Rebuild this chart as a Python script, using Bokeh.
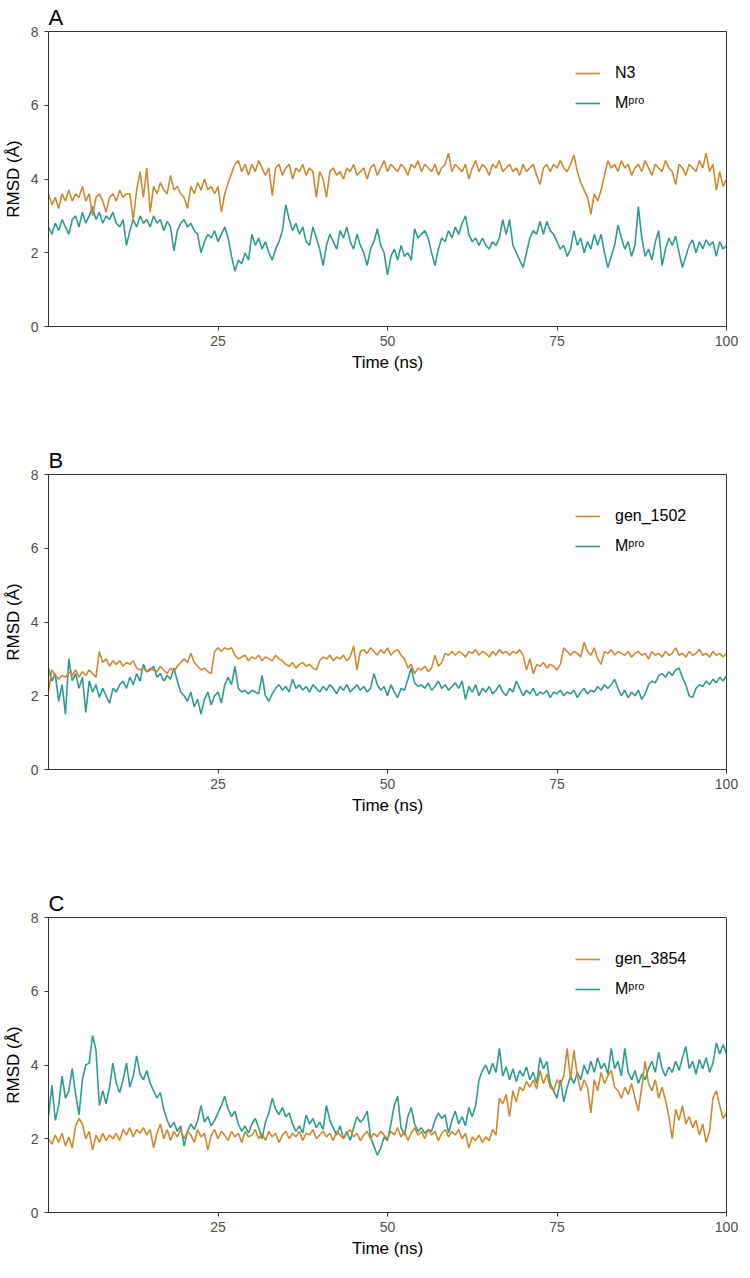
from bokeh.plotting import figure
from bokeh.layouts import column
from bokeh.models import Range1d, FixedTicker, Legend, LegendItem
from bokeh.embed import file_html
from bokeh.resources import INLINE

# Time axis (ns), 0.5 ns steps
time_ns = [i * 0.5 for i in range(201)]

# Panel A
n3_A = [
    3.6, 3.3, 3.5, 3.2, 3.6, 3.4, 3.7, 3.4, 3.6, 3.5, 3.8, 3.4, 3.6, 3.0, 3.5, 3.6, 3.4, 3.1, 3.5, 3.6,
    3.4, 3.7, 3.5, 3.6, 3.6, 2.9, 3.7, 4.2, 3.5, 4.3, 3.1, 3.8, 3.6, 3.9, 3.7, 3.6, 4.1, 3.7, 3.8, 3.6,
    3.5, 3.2, 3.8, 3.6, 3.9, 3.7, 4.0, 3.7, 3.8, 3.6, 3.8, 3.1, 3.6, 3.9, 4.15, 4.4, 4.5, 4.2, 4.4, 4.1,
    4.4, 4.2, 4.5, 4.3, 4.1, 4.3, 3.55, 4.3, 4.4, 4.1, 4.3, 4.4, 4.0, 4.3, 4.2, 4.4, 4.1, 4.3, 4.2, 3.5,
    4.2, 4.0, 3.5, 4.2, 4.3, 4.1, 4.2, 4.0, 4.3, 4.2, 4.4, 4.1, 4.2, 4.3, 4.0, 4.3, 4.4, 4.1, 4.3, 4.5,
    4.2, 4.4, 4.3, 4.2, 4.4, 4.3, 4.1, 4.4, 4.3, 4.5, 4.2, 4.4, 4.3, 4.2, 4.4, 4.1, 4.3, 4.4, 4.7, 4.2,
    4.4, 4.3, 4.2, 4.4, 4.0, 4.3, 4.5, 4.2, 4.4, 4.3, 4.1, 4.4, 4.3, 4.5, 4.2, 4.3, 4.4, 4.2, 4.3, 4.1,
    4.4, 4.2, 4.3, 4.4, 4.1, 3.85, 4.3, 4.4, 4.2, 4.4, 4.3, 4.5, 4.3, 4.2, 4.4, 4.65, 4.2, 3.9, 3.7, 3.5,
    3.05, 3.6, 3.4, 3.7, 4.1, 4.5, 4.3, 4.4, 4.2, 4.5, 4.3, 4.4, 4.1, 4.3, 4.4, 4.2, 4.5, 4.3, 4.1, 4.4,
    4.3, 4.2, 4.5, 4.3, 4.2, 3.85, 4.4, 4.3, 4.1, 4.4, 4.3, 4.2, 4.5, 4.3, 4.7, 4.2, 4.4, 3.7, 4.2, 3.8,
    4.0,
]
mpro_A = [
    2.7, 2.5, 2.8, 2.6, 2.9, 2.7, 2.5, 2.9, 3.0, 2.7, 3.1, 2.8, 3.0, 3.25, 2.9, 3.1, 2.8, 3.0, 2.9, 3.1,
    2.8, 2.7, 2.9, 2.2, 2.6, 2.9, 2.7, 3.0, 2.8, 2.9, 2.7, 3.0, 2.8, 2.9, 2.6, 2.85, 2.7, 2.05, 2.6, 2.8,
    2.9, 2.7, 2.8, 2.6, 2.5, 2.0, 2.3, 2.5, 2.4, 2.6, 2.3, 2.5, 2.7, 2.4, 1.9, 1.5, 1.8, 1.7, 2.0, 1.8,
    2.5, 2.2, 2.4, 2.1, 2.3, 2.0, 1.8, 2.1, 2.3, 2.6, 3.3, 2.9, 2.6, 2.8, 2.5, 2.7, 2.3, 2.2, 2.7, 2.4,
    2.1, 1.65, 2.2, 2.5, 2.3, 2.1, 2.6, 2.4, 2.7, 2.3, 2.1, 2.5, 2.2, 2.0, 1.65, 2.1, 2.3, 2.65, 2.2, 2.0,
    1.4, 1.9, 2.1, 1.8, 2.2, 1.9, 2.0, 1.8, 2.65, 2.4, 2.5, 2.6, 2.4, 2.0, 1.65, 2.1, 2.4, 2.3, 2.6, 2.4,
    2.7, 2.5, 2.8, 3.0, 2.5, 2.3, 2.4, 2.2, 2.4, 2.2, 2.1, 2.3, 2.2, 2.4, 2.9, 2.5, 2.9, 2.2, 2.0, 1.8,
    1.6, 2.0, 2.4, 2.6, 2.5, 2.85, 2.5, 2.85, 2.6, 2.5, 2.3, 2.1, 2.2, 1.9, 2.1, 2.6, 2.2, 2.4, 2.0, 2.3,
    2.1, 2.5, 2.2, 2.5, 2.0, 1.6, 1.9, 2.2, 2.75, 2.4, 2.1, 2.3, 1.9, 2.2, 3.25, 2.4, 1.9, 2.1, 1.8, 2.3,
    2.6, 1.65, 2.1, 2.4, 2.2, 2.45, 2.0, 1.6, 1.9, 2.2, 2.35, 2.0, 2.3, 2.1, 2.35, 2.2, 2.3, 1.9, 2.3, 2.1,
    2.2,
]

# Panel B
gen1502_B = [
    2.13, 2.7, 2.55, 2.45, 2.55, 2.5, 2.65, 2.55, 2.7, 2.5, 2.65, 2.55, 2.7, 2.6, 2.5, 3.2, 2.9, 3.0, 2.8, 2.95,
    2.85, 2.95, 2.8, 2.9, 2.85, 2.95, 2.75, 2.7, 2.75, 2.65, 2.75, 2.7, 2.65, 2.8, 2.7, 2.6, 2.75, 2.65, 2.8, 2.9,
    3.0, 2.9, 3.15, 2.9, 2.8, 2.7, 2.75, 2.65, 2.6, 3.2, 3.3, 3.2, 3.3, 3.25, 3.3, 3.1, 3.0, 3.05, 3.1, 2.95,
    3.05, 3.0, 3.1, 2.95, 3.05, 3.0, 2.95, 3.1, 3.0, 2.95, 2.85, 2.8, 2.9, 2.75, 2.85, 2.9, 2.8, 2.85, 2.75, 2.7,
    2.95, 3.05, 3.0, 3.1, 2.95, 3.05, 3.0, 3.1, 2.95, 3.05, 3.35, 2.7, 3.2, 3.25, 3.15, 3.3, 3.2, 3.1, 3.25, 3.15,
    3.3, 3.1, 3.2, 3.25, 3.1, 3.0, 2.75, 2.85, 2.6, 2.75, 2.7, 2.8, 2.65, 2.75, 3.1, 2.8, 2.9, 3.15, 3.1, 3.2,
    3.1, 3.2, 3.15, 3.05, 3.2, 3.15, 3.25, 3.1, 3.2, 3.15, 3.05, 3.2, 3.1, 3.25, 3.15, 3.2, 3.1, 3.2, 3.15, 3.25,
    3.1, 2.7, 3.0, 2.6, 2.85, 2.8, 2.9, 2.75, 2.85, 2.8, 2.7, 2.85, 3.3, 3.2, 3.1, 3.2, 3.15, 3.05, 3.45, 3.2,
    3.1, 3.3, 3.0, 2.85, 3.2, 3.15, 3.25, 3.1, 3.2, 3.15, 3.1, 3.2, 3.05, 3.15, 3.2, 3.1, 3.15, 3.0, 3.2, 3.1,
    3.15, 3.05, 3.2, 3.1, 3.15, 3.3, 3.1, 3.15, 3.05, 3.2, 3.1, 3.15, 3.25, 3.1, 3.15, 3.05, 3.2, 3.1, 3.15, 3.05,
    3.15,
]
mpro_B = [
    2.75, 2.4, 2.6, 1.85, 2.3, 1.5, 3.0, 2.4, 2.6, 2.2, 2.5, 1.55, 2.4, 2.1, 2.3, 1.95, 2.2, 2.0, 1.8, 2.2,
    2.1, 2.3, 2.4, 2.2, 2.5, 2.3, 2.6, 2.4, 2.85, 2.65, 2.7, 2.8, 2.5, 2.6, 2.4, 2.55, 2.45, 2.75, 2.4, 2.1,
    2.0, 1.85, 2.1, 1.7, 1.9, 1.5, 1.9, 2.1, 1.75, 2.0, 2.1, 1.8, 2.3, 2.5, 2.3, 2.8, 2.2, 2.1, 2.15, 2.05,
    2.15, 2.1, 2.05, 2.55, 2.0, 1.85, 2.05, 2.2, 2.3, 2.15, 2.25, 2.1, 2.45, 2.2, 2.3, 2.15, 2.25, 2.1, 2.3, 2.2,
    2.1, 2.25, 2.15, 2.3, 2.2, 2.05, 2.25, 2.15, 2.3, 2.1, 2.2, 2.3, 2.15, 2.25, 2.1, 2.2, 2.6, 2.3, 2.15, 2.25,
    2.0, 2.3, 2.1, 1.95, 2.2, 2.15, 2.45, 2.75, 2.35, 2.25, 2.3, 2.2, 2.35, 2.15, 2.25, 2.4, 2.2, 2.3, 2.15, 2.25,
    2.35, 2.2, 2.4, 1.9, 2.25, 2.1, 2.3, 2.0, 2.2, 2.1, 2.25, 2.05, 2.15, 2.3, 2.1, 2.0, 2.2, 2.1, 2.4, 2.2,
    2.0, 2.15, 2.05, 2.2, 2.0, 2.1, 2.05, 2.15, 1.95, 2.1, 2.05, 2.15, 2.0, 2.1, 2.05, 2.15, 1.95, 2.1, 2.2, 2.05,
    2.15, 2.1, 2.25, 2.15, 2.3, 2.2, 2.3, 2.45, 2.2, 2.0, 2.15, 1.95, 2.1, 2.0, 2.15, 1.9, 2.05, 2.3, 2.4, 2.35,
    2.55, 2.6, 2.5, 2.65, 2.55, 2.7, 2.75, 2.5, 2.3, 2.0, 1.95, 2.2, 2.3, 2.25, 2.4, 2.3, 2.45, 2.35, 2.5, 2.4,
    2.55,
]

# Panel C
gen3854_C = [
    2.0, 1.85, 2.1, 1.9, 2.15, 1.8, 2.05, 1.75, 2.35, 2.55, 2.4, 2.0, 2.2, 1.7, 2.1, 1.9, 2.15, 1.95, 2.1, 2.0,
    2.15, 1.95, 2.25, 2.1, 2.3, 2.05, 2.25, 2.15, 2.3, 2.1, 2.25, 1.75, 2.15, 2.4, 2.0, 2.25, 1.95, 2.2, 2.05, 2.25,
    2.0, 2.2, 2.1, 1.9, 2.25, 2.05, 2.15, 1.7, 2.1, 2.25, 2.0, 2.2, 2.1, 1.95, 2.2, 2.05, 2.15, 1.9, 2.2, 2.05,
    2.1, 2.25, 2.0, 2.15, 1.95, 2.2, 2.05, 2.15, 1.9, 2.1, 2.2, 2.0, 2.15, 2.05, 2.2, 1.95, 2.15, 2.1, 2.25, 2.0,
    2.1, 2.2, 2.05, 2.15, 1.95, 2.2, 2.1, 2.0, 2.15, 2.25, 2.05, 2.15, 1.95, 2.1, 2.2, 2.0, 2.15, 2.05, 2.2, 2.1,
    2.0, 2.2, 2.1, 2.3, 2.05, 2.2, 1.95, 2.15, 2.3, 2.1, 2.2, 2.0, 2.25, 2.1, 2.2, 1.95, 2.15, 2.25, 2.05, 2.2,
    2.1, 2.25, 2.0, 2.15, 1.75, 2.05, 1.95, 2.1, 1.9, 2.05, 1.95, 2.25, 2.1, 3.1, 2.95, 3.2, 2.6, 3.3, 3.0, 3.4,
    3.3, 3.55, 3.4, 3.6, 3.35, 3.85, 3.5, 3.75, 3.4, 3.3, 3.6, 3.45, 3.7, 4.45, 3.6, 4.4, 3.7, 3.3, 3.6, 3.4,
    2.7, 3.6, 3.3, 3.8, 3.5, 3.7, 3.85, 3.4, 3.3, 3.1, 3.4, 3.2, 3.5, 3.1, 2.75, 3.4, 4.1, 3.5, 3.3, 3.6,
    3.1, 3.4, 3.05, 2.6, 2.0, 2.8, 2.5, 2.9, 2.4, 2.6, 2.3, 2.5, 2.1, 2.4, 1.9, 2.2, 3.1, 3.3, 2.9, 2.55,
    2.7,
]
mpro_C = [
    2.6, 3.45, 2.5, 2.9, 3.7, 3.1, 3.3, 3.9, 3.2, 2.65, 3.6, 4.0, 4.05, 4.8, 4.4, 2.9, 3.3, 2.95, 3.4, 4.05,
    3.5, 3.25, 3.6, 4.05, 3.4, 3.7, 4.25, 3.75, 3.6, 3.85, 3.5, 3.3, 3.1, 3.25, 2.8, 2.5, 2.3, 2.45, 2.2, 2.35,
    1.8, 2.2, 2.4, 2.25, 2.5, 2.9, 2.45, 2.6, 2.35, 2.5, 2.7, 2.9, 3.15, 2.8, 2.6, 2.75, 2.4, 2.2, 2.35, 2.15,
    2.4, 2.55, 2.3, 2.0, 2.45, 2.7, 3.1, 2.8, 2.65, 2.85, 2.6, 2.7, 2.4, 2.2, 2.35, 2.15, 2.65, 2.4, 2.55, 2.3,
    2.45, 2.25, 2.9, 2.5, 2.3, 2.1, 2.35, 2.0, 2.2, 1.95, 2.3, 2.6, 2.45, 2.55, 2.75, 2.05, 1.8, 1.55, 1.75, 2.05,
    1.95, 2.4, 2.9, 3.15, 2.3, 2.1, 2.6, 2.85, 2.4, 2.2, 2.3, 2.15, 2.25, 2.2, 2.5, 2.7, 2.55, 2.65, 2.15, 2.5,
    2.75, 2.4, 2.6, 2.35, 2.85, 2.6, 2.9, 3.6, 3.85, 4.0, 3.75, 4.05, 3.8, 4.45, 3.7, 3.95, 3.6, 3.9, 3.55, 3.85,
    3.7, 3.95, 3.6, 3.8, 3.5, 4.2, 3.9, 4.1, 3.5, 3.3, 3.1, 3.6, 3.0, 3.4, 3.7, 3.5, 3.8, 3.6, 4.0, 3.75,
    4.1, 3.8, 4.2, 3.9, 4.05, 3.75, 4.45, 3.9, 4.1, 3.7, 4.45, 3.8, 3.6, 3.85, 3.5, 3.75, 3.6, 3.9, 4.1, 3.8,
    4.35, 3.9, 3.7, 3.95, 3.8, 4.1, 3.85, 4.2, 4.5, 3.9, 4.1, 3.75, 4.15, 3.9, 4.2, 3.8, 4.05, 4.6, 4.3, 4.55,
    4.3,
]

panel_letters = ["A", "B", "C"]
ligand_names = ["N3", "gen_1502", "gen_3854"]
protein_name = "M\u1d56\u02b3\u1d52"
ligand_series = [n3_A, gen1502_B, gen3854_C]
protein_series = [mpro_A, mpro_B, mpro_C]
x_ticks = [25, 50, 75, 100]
y_ticks = [0, 2, 4, 6, 8]

ORANGE = "#CD8930"
TEAL = "#2E9A91"
FONT = "Liberation Sans"
DARK = "#333333"

heights = [443, 443, 374]
bottoms = [117, 117, 48]


def make_panel(letter, lig_name, lig, prot, height, bottom):
    p = figure(width=738, height=height, x_range=Range1d(0, 100), y_range=Range1d(0, 8),
               output_backend="svg", toolbar_location=None,
               min_border_left=42, min_border_right=12, min_border_top=29,
               min_border_bottom=bottom, background_fill_color="white",
               border_fill_color="white")
    p.title.text = letter
    p.title.text_font = FONT
    p.title.text_font_size = "22px"
    p.title.text_font_style = "normal"
    p.title.text_color = "black"
    p.title.align = "left"
    p.title.standoff = 4

    p.xgrid.visible = False
    p.ygrid.visible = False
    p.outline_line_color = DARK
    p.outline_line_width = 1
    p.outline_line_alpha = 1

    p.xaxis.ticker = FixedTicker(ticks=x_ticks)
    p.yaxis.ticker = FixedTicker(ticks=y_ticks)
    for ax in (p.xaxis[0], p.yaxis[0]):
        ax.axis_line_color = DARK
        ax.major_tick_line_color = DARK
        ax.major_tick_in = 0
        ax.major_tick_out = 4
        ax.minor_tick_in = 0
        ax.minor_tick_out = 0
        ax.major_label_text_font = FONT
        ax.major_label_text_font_size = "14px"
        ax.major_label_text_color = "#4D4D4D"
        ax.axis_label_text_font = FONT
        ax.axis_label_text_font_size = "17px"
        ax.axis_label_text_font_style = "normal"
        ax.axis_label_text_color = "black"
    p.xaxis.axis_label = "Time (ns)"
    p.xaxis.major_label_standoff = 5
    p.xaxis.axis_label_standoff = 4
    p.yaxis.axis_label = "RMSD (\u00c5)"
    p.yaxis.major_label_standoff = 6
    p.yaxis.axis_label_standoff = 5

    r_prot = p.line(time_ns, prot, line_color=TEAL, line_width=1.6)
    r_lig = p.line(time_ns, lig, line_color=ORANGE, line_width=1.6)

    legend = Legend(items=[LegendItem(label=lig_name, renderers=[r_lig]),
                           LegendItem(label=protein_name, renderers=[r_prot])],
                    location=(527, 213), padding=0, margin=0, spacing=10,
                    glyph_width=25, glyph_height=20, label_height=20,
                    label_standoff=15, label_text_font=FONT,
                    label_text_font_size="16px", label_text_color="black",
                    border_line_alpha=0, background_fill_alpha=0)
    p.add_layout(legend)
    return p


plots = [make_panel(panel_letters[i], ligand_names[i], ligand_series[i],
                    protein_series[i], heights[i], bottoms[i]) for i in range(3)]
layout = column(*plots, spacing=0)

open("out.html", "w").write(file_html(layout, INLINE))
